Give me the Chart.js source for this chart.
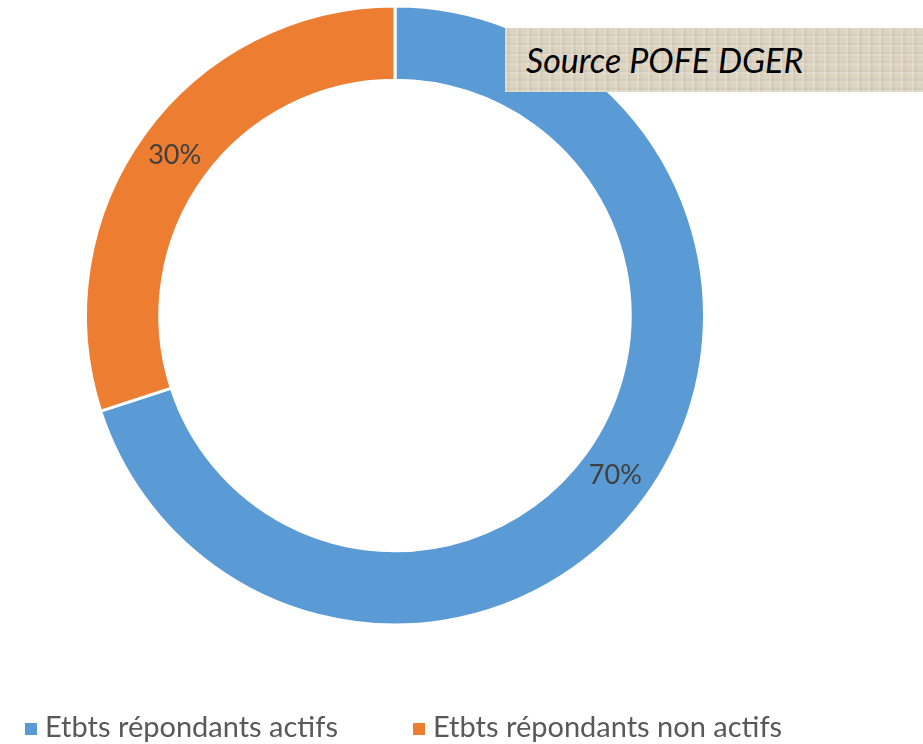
<!DOCTYPE html>
<html>
<head>
<meta charset="utf-8">
<script src="https://cdn.jsdelivr.net/npm/chart.js@4.4.0/dist/chart.umd.min.js"></script>
<style>
  body { margin: 0; background: #fff; }
  #wrap { position: relative; width: 923px; height: 744px; overflow: hidden; }
  #myChart { position: absolute; left: 0; top: 0; }
  .source {
    position: absolute; left: 505px; top: 28px; width: 418px; height: 64px;
    background-color: #dcd3c1;
    background-image:
      repeating-linear-gradient(90deg, rgba(255,255,255,0.16) 0 2px, rgba(0,0,0,0.03) 2px 5px, rgba(255,255,255,0) 5px 11px),
      repeating-linear-gradient(0deg, rgba(255,255,255,0.13) 0 2px, rgba(0,0,0,0.03) 2px 4px, rgba(255,255,255,0) 4px 9px);
    font-family: "Lato", "Open Sans", sans-serif; font-style: italic;
    font-size: 34px; color: #000; line-height: 64px; padding-left: 21px; box-sizing: border-box;
  }
  .leg { position: absolute; top: 708px; font-family: "Lato", "Open Sans", sans-serif; font-size: 29px; color: #595959; white-space: nowrap; }
  .leg span.sq { display: inline-block; width: 12px; height: 12px; margin-right: 8px; vertical-align: 2px; }
</style>
</head>
<body>
<div id="wrap">
  <canvas id="myChart" width="923" height="744"></canvas>
  <div class="source">Source POFE DGER</div>
  <div class="leg" style="left:25px"><span class="sq" style="background:#5b9bd5"></span>Etbts répondants actifs</div>
  <div class="leg" style="left:413px"><span class="sq" style="background:#ed7d31"></span>Etbts répondants non actifs</div>
</div>
<script>
var categories = ["Etbts répondants actifs", "Etbts répondants non actifs"];
var valeurs = [70, 30];
var couleurs = ['#5b9bd5', '#ed7d31'];

// etiquettes "70%" au milieu de chaque arc
var etiquettes = {
    id: 'etiquettes',
    afterDatasetsDraw: function (chart) {
        var ctx = chart.ctx;
        var total = valeurs.reduce(function (a, b) { return a + b; }, 0);
        chart.getDatasetMeta(0).data.forEach(function (arc, i) {
            var p = arc.tooltipPosition();
            ctx.save();
            ctx.font = '27px Lato, "Open Sans", sans-serif';
            ctx.fillStyle = '#404040';
            ctx.textAlign = 'center';
            ctx.textBaseline = 'middle';
            ctx.fillText(Math.round(valeurs[i] / total * 100) + '%', p.x, p.y);
            ctx.restore();
        });
    }
};

var ctx = document.getElementById('myChart').getContext('2d');
var chart = new Chart(ctx, {
    type: 'doughnut',
    data: {
        labels: categories,
        datasets: [{
            data: valeurs,
            backgroundColor: couleurs,
            borderColor: '#ffffff',
            borderWidth: 3
        }]
    },
    options: {
        responsive: false,
        animation: false,
        cutout: '76%',
        layout: { padding: { left: 84, right: 217, top: 4, bottom: 117 } },
        plugins: {
            legend: { display: false },
            tooltip: { enabled: false }
        }
    },
    plugins: [etiquettes]
});
</script>
</body>
</html>
